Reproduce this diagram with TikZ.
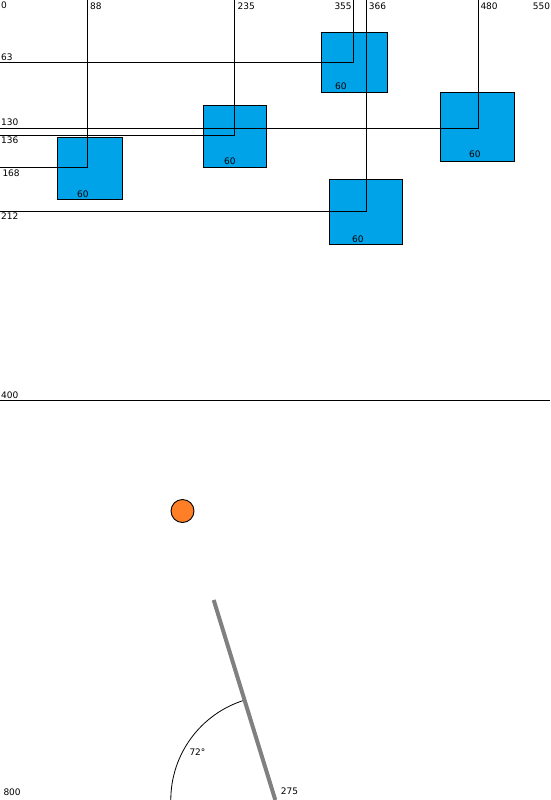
\documentclass[tikz,border=0pt]{standalone}
\usepackage{fontspec}
\setmainfont{DejaVu Sans}
\definecolor{boxblue}{HTML}{00A2E8}
\definecolor{dotorange}{HTML}{FF7F27}
\definecolor{rodgray}{HTML}{808080}
\tikzset{
  guide/.style={draw=black, line width=1pt},
  sqbox/.style={draw=black, line width=1pt, fill=boxblue, rectangle, inner sep=0pt},
  num/.style={anchor=base west, inner sep=0pt, font=\fontsize{9}{10}\selectfont, text=black},
}
\begin{document}
\begin{tikzpicture}[x=1pt, y=-1pt]
\useasboundingbox (0,0) rectangle (550,800);
% boxes
\node[sqbox, minimum width=65pt, minimum height=62pt] (b1) at (89.8,168.2) {};
\node[sqbox, minimum width=63pt, minimum height=62pt] (b2) at (234.8,136.3) {};
\node[sqbox, minimum width=66pt, minimum height=60pt] (b3) at (354.3,62.3) {};
\node[sqbox, minimum width=73.6pt, minimum height=69pt] (b4) at (477.5,126.8) {};
\node[sqbox, minimum width=72.6pt, minimum height=65.3pt] (b5) at (366,212.3) {};
% guide coordinates
\coordinate (t88) at (87.5,0);   \coordinate (c88) at (87.5,167.5);  \coordinate (l168) at (0,167.5);
\coordinate (t235) at (234.5,0); \coordinate (c235) at (234.5,135.5); \coordinate (l136) at (0,135.5);
\coordinate (t355) at (353.5,0); \coordinate (c355) at (353.5,62.5);  \coordinate (l63) at (0,62.5);
\coordinate (t366) at (366.5,0); \coordinate (c366) at (366.5,211.5); \coordinate (l212) at (0,211.5);
\coordinate (t480) at (478.5,0); \coordinate (c480) at (478.5,128.5); \coordinate (l130) at (0,128.5);
\coordinate (l400) at (0,400.5); \coordinate (r400) at (550,400.5);
\draw[guide] (t88) -- (c88) -- (l168);
\draw[guide] (t235) -- (c235) -- (l136);
\draw[guide] (t355) -- (c355) -- (l63);
\draw[guide] (t366) -- (c366) -- (l212);
\draw[guide] (t480) -- (c480) -- (l130);
\draw[guide] (l400) -- (r400);
% labels on the axes
\node[num] (n0) at (1,9) {0};
\node[num] (n88) at (90,9.8) {88};
\node[num] (n235) at (237.5,9.5) {235};
\node[num] (n355) at (334.3,9.5) {355};
\node[num] (n366) at (368.7,9.5) {366};
\node[num] (n480) at (480.3,9.5) {480};
\node[num] (n550) at (532.7,9.5) {550};
\node[num] (n63) at (1,60) {63};
\node[num] (n130) at (1,125.5) {130};
\node[num] (n136) at (1,143.5) {136};
\node[num] (n168) at (2.3,176.5) {168};
\node[num] (n212) at (1,219.5) {212};
\node[num] (n400) at (1,398) {400};
\node[num] (n800) at (3.3,795) {800};
% box labels
\node[num] (s1) at (77,197) {60};
\node[num] (s2) at (224,164) {60};
\node[num] (s3) at (335,89) {60};
\node[num] (s4) at (469,157) {60};
\node[num] (s5) at (352,242) {60};
% orange dot
\node[circle, draw=black, line width=0.9pt, fill=dotorange, minimum size=23pt, inner sep=0pt] (dot) at (182.5,511) {};
% rod and angle
\coordinate (pivot) at (275.3,800);
\coordinate (rodtop) at (213.7,600);
\draw[black, line width=0.8pt] (pivot) ++(180:104.5) arc[start angle=180, end angle=252.9, radius=104.5];
\draw[rodgray, line width=4pt] (rodtop) -- (pivot);
\node[num] (ang) at (189.3,755.5) {72°};
\node[num] (n275) at (280.7,794.5) {275};
\end{tikzpicture}
\end{document}
